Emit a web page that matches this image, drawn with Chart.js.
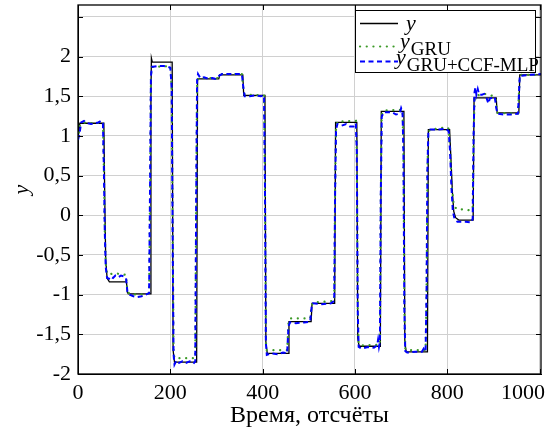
<!DOCTYPE html>
<html>
<head>
<meta charset="utf-8">
<script src="https://cdn.jsdelivr.net/npm/chart.js@4"></script>
<style>
html, body { margin: 0; padding: 0; background: #fff; }
</style>
</head>
<body>
<canvas id="myChart" width="552" height="430"></canvas>
<script>
var xTicks = [0, 200, 400, 600, 800, 1000];

// reference output y
var refT = [0, 4, 56, 58, 60, 63, 68,
    105, 107, 109,
    157, 158, 159, 161,
    204, 206, 209,
    257, 259,
    305, 307,
    357, 359,
    405, 407, 410,
    455, 457,
    505, 507,
    556, 558,
    604, 606, 609,
    655, 657,
    706, 708, 711,
    757, 759,
    805, 808, 811, 814, 818, 825,
    856, 858,
    906, 908,
    955, 957, 1003];
var refY = [0.97, 1.16, 1.16, 0.2, -0.55, -0.79, -0.84,
    -0.84, -0.97, -0.99,
    -0.99, 1.5, 1.98, 1.93,
    1.93, -1.7, -1.85,
    -1.85, 1.72,
    1.72, 1.77,
    1.77, 1.51,
    1.51, -1.6, -1.74,
    -1.74, -1.34,
    -1.34, -1.11,
    -1.11, 1.17,
    1.17, -1.55, -1.65,
    -1.65, 1.31,
    1.31, -1.6, -1.72,
    -1.72, 1.08,
    1.08, 0.7, 0.3, 0.05, -0.03, -0.06,
    -0.06, 1.48,
    1.48, 1.29,
    1.29, 1.77, 1.77];

// y_GRU
var gruT = [0, 4, 9, 30, 54,
    56, 58, 60, 63, 70, 80, 90, 104,
    107, 112, 130, 150, 154,
    156, 158, 160, 200, 203,
    205, 207, 209, 254,
    256, 258, 261, 303,
    306, 310, 355,
    358, 361, 403,
    405, 407, 409, 453,
    456, 459, 503,
    506, 509, 555,
    557, 559, 562, 602,
    604, 606, 608, 612, 654,
    656, 658, 662, 703,
    705, 707, 709, 712, 753,
    755, 757, 759, 763, 800, 803,
    806, 810, 814, 820, 840, 852, 855,
    857, 859, 862, 870, 885, 900, 904,
    907, 909, 953,
    955, 957, 961, 1003];
var gruY = [0.96, 1.13, 1.17, 1.16, 1.17,
    0.6, -0.2, -0.6, -0.74, -0.74, -0.73, -0.74, -0.75,
    -0.96, -0.99, -1.0, -0.99, -0.98,
    0.3, 1.75, 1.87, 1.88, 1.6,
    -0.2, -1.72, -1.8, -1.8,
    0.2, 1.68, 1.73, 1.73,
    1.76, 1.78, 1.78,
    1.6, 1.52, 1.51,
    0.4, -1.6, -1.7, -1.7,
    -1.35, -1.3, -1.3,
    -1.14, -1.1, -1.08,
    0.3, 1.1, 1.18, 1.19,
    0.8, -1.2, -1.62, -1.64, -1.63,
    0.3, 1.27, 1.32, 1.33,
    0.8, -1.2, -1.68, -1.7, -1.7,
    -1.0, 0.6, 1.05, 1.08, 1.11, 1.09,
    0.85, 0.35, 0.13, 0.08, 0.07, 0.06, 0.1,
    1.0, 1.45, 1.5, 1.52, 1.53, 1.5, 1.49,
    1.35, 1.29, 1.28,
    1.5, 1.76, 1.77, 1.77];

// y_GRU+CCF-MLP
var mlpT = [0, 3, 7, 13, 20, 28, 36, 44, 50, 54,
    56, 58, 60, 63, 67, 71, 76, 81, 87, 93, 99, 104,
    107, 112, 120, 128, 138, 147, 154,
    156, 158, 160, 172, 186, 195, 200, 203,
    205, 207, 209, 213, 219, 226, 234, 242, 250, 254,
    256, 258, 260, 265, 273, 283, 291, 297, 302,
    306, 312, 335, 355,
    358, 361, 372, 383, 396, 403,
    405, 407, 409, 418, 432, 444, 453,
    456, 459, 472, 490, 503,
    506, 509, 528, 548, 555,
    557, 559, 562, 571, 581, 589, 597, 602,
    604, 606, 608, 614, 628, 641, 648, 650, 652, 654,
    656, 658, 662, 680, 689, 697, 700, 703,
    705, 707, 709, 713, 731, 745, 749, 753,
    755, 757, 759, 763, 781, 797, 803,
    806, 809, 812, 816, 822, 840, 852, 855,
    857, 859, 861, 863, 866, 869, 875, 880, 885, 889, 892, 897, 903,
    906, 909, 922, 940, 953,
    955, 957, 961, 980, 1003];
var mlpY = [0.95, 1.02, 1.17, 1.19, 1.16, 1.15, 1.16, 1.17, 1.19, 1.16,
    0.6, -0.2, -0.65, -0.79, -0.8, -0.77, -0.79, -0.76, -0.78, -0.76, -0.77, -0.79,
    -0.96, -1.0, -1.02, -1.03, -1.02, -1.0, -0.98,
    0.3, 1.75, 1.87, 1.88, 1.88, 1.87, 1.86, 1.6,
    -0.2, -1.75, -1.88, -1.83, -1.86, -1.84, -1.86, -1.84, -1.87, -1.84,
    0.2, 1.7, 1.78, 1.73, 1.74, 1.72, 1.73, 1.72, 1.74,
    1.76, 1.78, 1.78, 1.78,
    1.62, 1.5, 1.5, 1.51, 1.5, 1.51,
    0.4, -1.6, -1.76, -1.74, -1.75, -1.73, -1.74,
    -1.4, -1.35, -1.36, -1.35, -1.34,
    -1.16, -1.11, -1.12, -1.11, -1.08,
    0.3, 1.08, 1.15, 1.13, 1.15, 1.12, 1.12, 1.16,
    0.8, -1.2, -1.66, -1.68, -1.66, -1.67, -1.64, -1.57, -1.66, -1.6,
    0.3, 1.24, 1.3, 1.3, 1.27, 1.28, 1.35, 1.3,
    0.8, -1.2, -1.71, -1.73, -1.72, -1.72, -1.68, -1.71,
    -1.0, 0.6, 1.04, 1.08, 1.08, 1.09, 1.06,
    0.8, 0.35, 0.05, -0.05, -0.08, -0.08, -0.09, -0.04,
    1.0, 1.55, 1.61, 1.52, 1.59, 1.52, 1.52, 1.53, 1.48, 1.41, 1.47, 1.48, 1.49,
    1.35, 1.28, 1.27, 1.27, 1.28,
    1.5, 1.76, 1.76, 1.77, 1.78];

var serif = "'Liberation Serif', 'Times New Roman', serif";

function toPoints(ts, vs) {
    return ts.map(function (t, i) { return {x: t, y: vs[i]}; });
}

// frame, inner ticks, x tick labels and the legend with subscripts
var frame = {
    id: 'frame',
    afterDraw: function (chart) {
        var c = chart.ctx, a = chart.chartArea;
        var xs = chart.scales.x, ys = chart.scales.y;
        c.save();
        c.strokeStyle = '#000';
        c.lineWidth = 1;
        c.beginPath();
        ys.ticks.forEach(function (t) {
            var py = Math.round(ys.getPixelForValue(t.value)) + 0.5;
            c.moveTo(a.left, py); c.lineTo(a.left + 5, py);
            c.moveTo(a.right, py); c.lineTo(a.right - 5, py);
        });
        xs.ticks.forEach(function (t) {
            var px = Math.round(xs.getPixelForValue(t.value)) + 0.5;
            c.moveTo(px, a.bottom); c.lineTo(px, a.bottom - 5);
            c.moveTo(px, a.top); c.lineTo(px, a.top + 5);
        });
        c.stroke();
        c.lineWidth = 1.3;
        c.strokeRect(a.left, a.top, a.right - a.left, a.bottom - a.top);

        c.font = '22px ' + serif;
        c.fillStyle = '#000';
        c.textAlign = 'center';
        c.textBaseline = 'alphabetic';
        xs.ticks.forEach(function (t) {
            var s = String(t.value), w = c.measureText(s).width;
            var px = Math.min(xs.getPixelForValue(t.value), chart.width - 7 - w / 2);
            c.fillText(s, px, a.bottom + 25);
        });

        // legend
        var lx = a.right - 186, ly = a.top + 5;
        c.fillStyle = '#fff';
        c.fillRect(lx, ly, 180, 62);
        c.lineWidth = 1;
        c.strokeStyle = '#000';
        c.strokeRect(lx + 0.5, ly + 0.5, 180, 62);
        var rows = [
            {color: '#000', dash: [], width: 1.3, cap: 'butt', lineY: 13.5, x: 51, base: 20, sub: ''},
            {color: '#3c9a28', dash: [0.1, 6.6], width: 2.2, cap: 'round', lineY: 36.5, x: 45, base: 38, sub: 'GRU'},
            {color: '#0000ff', dash: [5, 3.5], width: 2, cap: 'butt', lineY: 51.5, x: 41, base: 54, sub: 'GRU+CCF-MLP'}
        ];
        c.textAlign = 'left';
        rows.forEach(function (r) {
            c.beginPath();
            c.strokeStyle = r.color;
            c.lineWidth = r.width;
            c.lineCap = r.cap;
            c.setLineDash(r.dash);
            c.moveTo(lx + 5, ly + r.lineY);
            c.lineTo(lx + 43, ly + r.lineY);
            c.stroke();
            c.setLineDash([]);
            c.fillStyle = '#000';
            c.font = 'italic 22px ' + serif;
            c.fillText('y', lx + r.x, ly + r.base);
            if (r.sub) {
                var w = c.measureText('y').width;
                c.font = '19px ' + serif;
                c.fillText(r.sub, lx + r.x + w + 1, ly + r.base + 7);
            }
        });
        c.restore();
    }
};

var ctx = document.getElementById('myChart').getContext('2d');
var myChart = new Chart(ctx, {
    type: 'line',
    data: {
        datasets: [{
            label: 'y',
            data: toPoints(refT, refY),
            borderColor: '#000',
            borderWidth: 1.3,
            order: 3
        }, {
            label: 'y_GRU',
            data: toPoints(gruT, gruY),
            borderColor: '#3c9a28',
            borderWidth: 2.2,
            borderDash: [0.1, 6.6],
            borderCapStyle: 'round',
            order: 2
        }, {
            label: 'y_GRU+CCF-MLP',
            data: toPoints(mlpT, mlpY),
            borderColor: '#0000ff',
            borderWidth: 2,
            borderDash: [5, 3.5],
            order: 1
        }]
    },
    options: {
        responsive: false,
        animation: false,
        parsing: false,
        elements: {
            point: { radius: 0 },
            line: { tension: 0, fill: false }
        },
        layout: { padding: { top: 5, right: 11, left: 0, bottom: 0 } },
        plugins: {
            legend: { display: false },
            tooltip: { enabled: false }
        },
        scales: {
            x: {
                type: 'linear',
                min: 0,
                max: 1003,
                grid: { color: '#d0d0d0', drawTicks: false },
                border: { color: '#000' },
                ticks: { display: false },
                afterBuildTicks: function (scale) {
                    scale.ticks = xTicks.map(function (v) { return {value: v}; });
                },
                title: {
                    display: true,
                    text: 'Время, отсчёты',
                    color: '#000',
                    font: { family: serif, size: 24 },
                    padding: { top: 0, bottom: 0 }
                },
                afterFit: function (scale) {
                    scale.height = 56;
                    scale.paddingLeft = 0;
                    scale.paddingRight = 0;
                }
            },
            y: {
                min: -2,
                max: 2.65,
                grid: { color: '#d0d0d0', drawTicks: false },
                border: { color: '#000' },
                ticks: {
                    stepSize: 0.5,
                    includeBounds: false,
                    padding: 7,
                    color: '#000',
                    font: { family: serif, size: 22 },
                    callback: function (v) {
                        return v === 2.5 ? '' : String(v).replace('.', ',');
                    }
                },
                title: {
                    display: true,
                    text: 'y',
                    color: '#000',
                    font: { family: serif, size: 22, style: 'italic' },
                    padding: { top: 9, bottom: 0 }
                },
                afterFit: function (scale) {
                    scale.width = 78;
                    scale.paddingTop = 0;
                    scale.paddingBottom = 0;
                }
            }
        }
    },
    plugins: [frame]
});
</script>
</body>
</html>
